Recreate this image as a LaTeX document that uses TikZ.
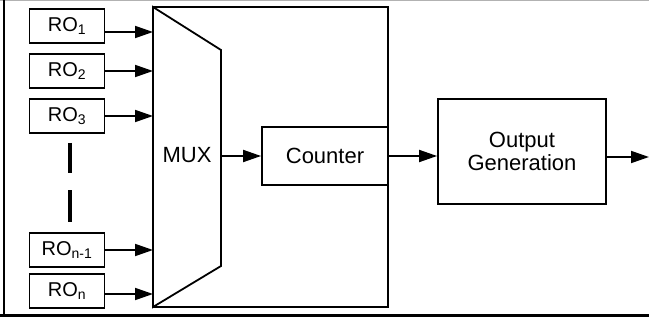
\documentclass[tikz,border=0pt]{standalone}
\usepackage{fontspec}
\setmainfont{Liberation Sans}
\usetikzlibrary{arrows.meta}
\begin{document}
\begin{tikzpicture}[x=1pt,y=-1pt,
  blk/.style={draw,line width=1.8pt,inner sep=0pt,fill=white},
  robox/.style={blk,minimum width=75pt,minimum height=34pt,font=\fontsize{20}{24}\selectfont},
  arr/.style={line width=1.8pt,-{Triangle[length=18pt,width=12pt]}},
  big/.style={font=\fontsize{22}{26}\selectfont}]
\useasboundingbox (0,0) rectangle (649,321);
\fill[white] (0,0) rectangle (649,321);
% frame
\draw[gray!60,line width=1.5pt] (0,0.75) -- (649,0.75);
\draw[line width=2pt] (4,0) -- (4,316);
\draw[line width=3pt] (0,315) -- (649,315);
% big box and mux
\draw[line width=1.8pt] (153,7) rectangle (388,307);
\coordinate (muxL) at (153,155);
\draw[line width=1.8pt,fill=white] (153,7) -- (221,50) -- (221,266) -- (153,307) -- cycle;
\node[big] (mux) at (187,155) {MUX};
\coordinate (muxR) at (221,156);
% counter, output
\node[blk,big,minimum width=126pt,minimum height=58pt] (counter) at (325,156) {Counter};
\node[blk,big,minimum width=168pt,minimum height=105pt,align=center] (og) at (522,151.5) {Output\\[-3pt]Generation};
\coordinate (out) at (649,157);
% RO boxes
\node[robox] (ro1) at (67,26) {RO\textsubscript{1}};
\node[robox] (ro2) at (67,71) {RO\textsubscript{2}};
\node[robox] (ro3) at (67,116) {RO\textsubscript{3}};
\node[robox] (ron1) at (67,250) {RO\textsubscript{n-1}};
\node[robox] (ron) at (67,291) {RO\textsubscript{n}};
% arrows
\draw[arr] ([yshift=-6pt]ro1.east) -- ([yshift=-6pt]ro1.east -| muxL);
\draw[arr] (ro2.east) -- (ro2.east -| muxL);
\draw[arr] (ro3.east) -- (ro3.east -| muxL);
\draw[arr] (ron1.east) -- (ron1.east -| muxL);
\draw[arr] ([yshift=-3pt]ron.east) -- ([yshift=-3pt]ron.east -| muxL);
\draw[arr] (muxR) -- (counter.west);
\draw[arr] (counter.east) -- (counter.east -| og.west);
\draw[arr] (og.east |- out) -- (out);
% dashes
\draw[line width=4pt] (70,143) -- (70,173);
\draw[line width=4pt] (70,190) -- (70,222);
\end{tikzpicture}
\end{document}
